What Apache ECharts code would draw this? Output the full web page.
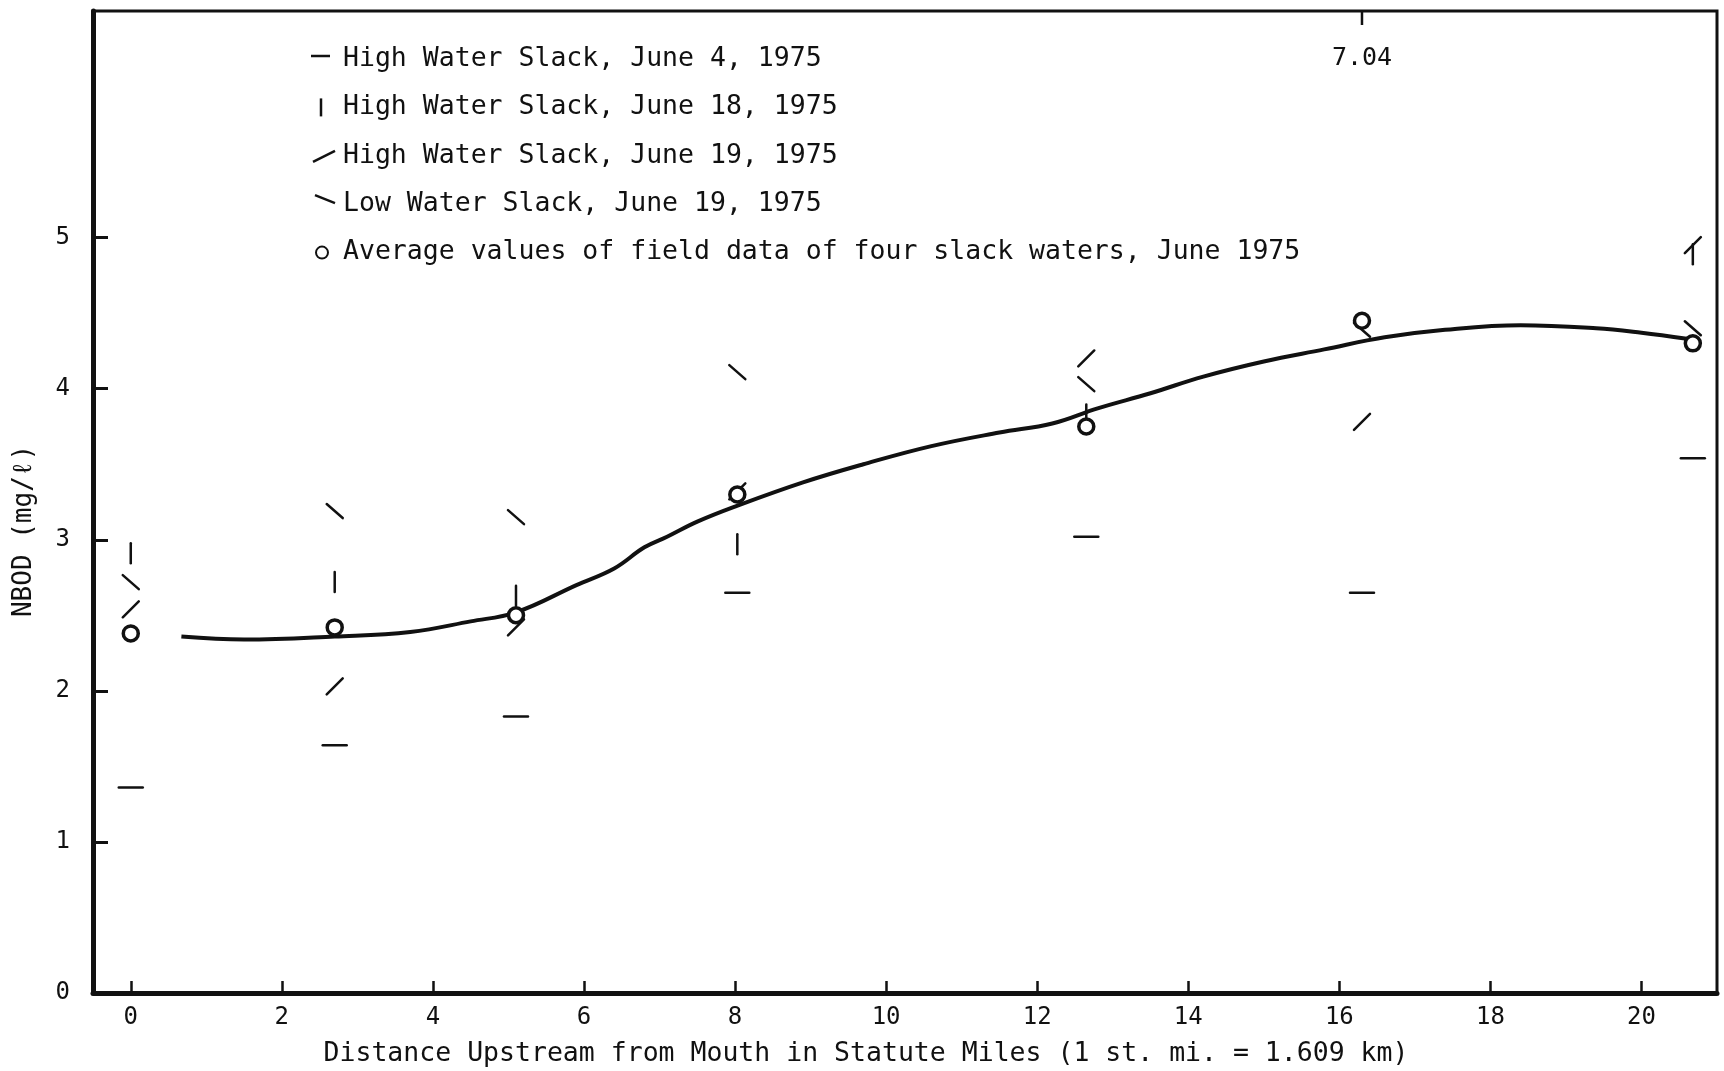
<!DOCTYPE html>
<html>
<head>
<meta charset="utf-8">
<script src="https://cdn.jsdelivr.net/npm/echarts@6/dist/echarts.min.js"></script>
<style>html,body{margin:0;padding:0;background:#fff}#c{width:1724px;height:1071px}</style>
</head>
<body>
<div id="c"></div>
<script>
// ---- data ----
const stations = [0, 2.7, 5.1, 8.03, 12.65, 16.3, 20.68];
const june4High  = [1.36, 1.64, 1.83, 2.65, 3.02, 2.65, 3.54];
const june18High = [2.91, 2.72, 2.63, 2.97, 3.83, 7.04, 4.89];
const june19High = [2.54, 2.03, 2.42, 3.32, 4.20, 3.78, 4.95];
const june19Low  = [2.72, 3.19, 3.15, 4.11, 4.03, 4.39, 4.40];
const averages   = [2.38, 2.42, 2.50, 3.30, 3.75, 4.45, 4.30];
const curveX = [0.67, 1.5, 2.7, 3.7, 4.5, 5.1, 5.9, 6.4, 6.8, 7.1, 7.5, 8.0, 8.9, 9.7, 10.6, 11.5, 12.2, 12.8, 13.5, 14.2, 15.0, 15.8, 16.6, 17.4, 18.4, 19.4, 20.0, 20.6];
const curveY = [2.36, 2.34, 2.36, 2.39, 2.46, 2.52, 2.70, 2.81, 2.95, 3.02, 3.12, 3.22, 3.38, 3.50, 3.62, 3.71, 3.77, 3.87, 3.97, 4.08, 4.18, 4.26, 4.34, 4.39, 4.42, 4.40, 4.37, 4.33];
const xTicks = [0, 2, 4, 6, 8, 10, 12, 14, 16, 18, 20];
const yTicks = [0, 1, 2, 3, 4, 5];
const seriesNames = [
  'High Water Slack, June 4, 1975',
  'High Water Slack, June 18, 1975',
  'High Water Slack, June 19, 1975',
  'Low Water Slack, June 19, 1975',
  'Average values of field data of four slack waters, June 1975'
];
const xTitle = 'Distance Upstream from Mouth in Statute Miles (1 st. mi. = 1.609 km)';
const yTitle = 'NBOD (mg/\u2113)';

// ---- style ----
const INK = '#111';
const MONO = '"DejaVu Sans Mono", "Liberation Mono", monospace';
const X_MIN = -0.5, X_MAX = 21, Y_MIN = 0, Y_MAX = 6.5;
const GLW = 2.5;

function glyph(kind, cx, cy) {
  const ls = {stroke: INK, lineWidth: GLW, lineCap: 'round'};
  switch (kind) {
    case 'dash': return {type: 'line', shape: {x1: cx - 12, y1: cy, x2: cx + 12, y2: cy}, style: ls};
    case 'bar': return {type: 'line', shape: {x1: cx, y1: cy - 10, x2: cx, y2: cy + 10}, style: ls};
    case 'slash': return {type: 'line', shape: {x1: cx - 8, y1: cy + 8, x2: cx + 8, y2: cy - 8}, style: ls};
    case 'back': return {type: 'line', shape: {x1: cx - 8, y1: cy - 7, x2: cx + 8, y2: cy + 7}, style: ls};
    default: return {type: 'circle', shape: {cx: cx, cy: cy, r: 7.5}, style: {stroke: INK, lineWidth: 3.5, fill: '#fff'}};
  }
}

function glyphSeries(name, values, kind, z) {
  return {
    type: 'custom',
    name: name,
    z: z,
    data: stations.map((s, i) => [s, values[i]]),
    renderItem: function (params, api) {
      const x = api.value(0), y = api.value(1);
      if (y > Y_MAX) {
        const t = api.coord([x, Y_MAX]);
        return {type: 'group', children: [
          {type: 'line', shape: {x1: t[0], y1: t[1], x2: t[0], y2: t[1] + 14}, style: {stroke: INK, lineWidth: GLW}},
          {type: 'text', x: t[0], y: t[1] + 47, style: {text: y.toFixed(2), font: '25px ' + MONO, fill: INK, align: 'center', verticalAlign: 'middle'}}
        ]};
      }
      const p = api.coord([x, y]);
      return glyph(kind, p[0], p[1]);
    }
  };
}

// ---- legend and axis titles drawn as graphic ----
const kinds = ['dash', 'bar', 'slash', 'back', 'circle'];
const legendGraphics = [];
seriesNames.forEach((n, i) => {
  const cy = 59 + i * 48.4;
  let icon;
  if (kinds[i] === 'dash') icon = {type: 'line', shape: {x1: 311, y1: cy - 3, x2: 330, y2: cy - 3}, style: {stroke: INK, lineWidth: GLW}};
  else if (kinds[i] === 'bar') icon = {type: 'line', shape: {x1: 321, y1: cy - 9, x2: 321, y2: cy + 9}, style: {stroke: INK, lineWidth: GLW}};
  else if (kinds[i] === 'slash') icon = {type: 'line', shape: {x1: 313, y1: cy + 6, x2: 335, y2: cy - 5}, style: {stroke: INK, lineWidth: GLW}};
  else if (kinds[i] === 'back') icon = {type: 'line', shape: {x1: 315, y1: cy - 9, x2: 335, y2: cy - 1}, style: {stroke: INK, lineWidth: GLW}};
  else icon = {type: 'circle', shape: {cx: 322, cy: cy, r: 6}, style: {stroke: INK, lineWidth: 2, fill: 'none'}};
  legendGraphics.push(icon);
  legendGraphics.push({type: 'text', x: 343, y: cy, style: {text: n, font: '26.5px ' + MONO, fill: INK, align: 'left', verticalAlign: 'middle'}});
});
legendGraphics.push({type: 'text', x: 866, y: 1054, style: {text: xTitle, font: '26.5px ' + MONO, fill: INK, align: 'center', verticalAlign: 'middle'}});
legendGraphics.push({type: 'text', x: 24, y: 531, rotation: Math.PI / 2, style: {text: yTitle, font: '26px ' + MONO, fill: INK, align: 'center', verticalAlign: 'middle'}});

const chart = echarts.init(document.getElementById('c'), null, {renderer: 'canvas'});
chart.setOption({
  backgroundColor: '#fff',
  animation: false,
  grid: {left: 93, top: 11, right: 7, bottom: 78, show: true, borderColor: INK, borderWidth: 3, backgroundColor: 'transparent'},
  xAxis: {
    type: 'value', min: X_MIN, max: X_MAX,
    axisLine: {show: true, onZero: false, lineStyle: {color: INK, width: 5}},
    axisTick: {show: true, inside: true, length: 12, customValues: xTicks, lineStyle: {color: INK, width: 2.5}},
    axisLabel: {customValues: xTicks, margin: 13, fontSize: 24, fontFamily: MONO, color: INK},
    splitLine: {show: false}
  },
  yAxis: {
    type: 'value', min: Y_MIN, max: Y_MAX,
    axisLine: {show: true, onZero: false, lineStyle: {color: INK, width: 5}},
    axisTick: {show: true, inside: true, length: 15, customValues: yTicks, lineStyle: {color: INK, width: 3}},
    axisLabel: {customValues: yTicks, margin: 23, fontSize: 24, fontFamily: MONO, color: INK},
    splitLine: {show: false}
  },
  graphic: legendGraphics,
  series: [
    {type: 'line', name: 'curve', data: curveX.map((x, i) => [x, curveY[i]]), smooth: 0.4, showSymbol: false, symbol: 'none', lineStyle: {color: INK, width: 4}, z: 2},
    glyphSeries(seriesNames[0], june4High, 'dash', 3),
    glyphSeries(seriesNames[1], june18High, 'bar', 3),
    glyphSeries(seriesNames[2], june19High, 'slash', 3),
    glyphSeries(seriesNames[3], june19Low, 'back', 3),
    glyphSeries(seriesNames[4], averages, 'circle', 4)
  ]
});
</script>
</body>
</html>
